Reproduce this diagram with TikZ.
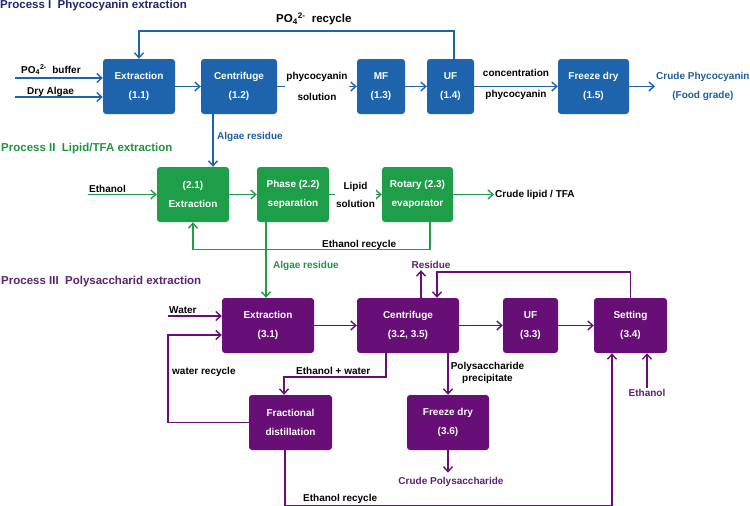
\documentclass[tikz,border=0pt]{standalone}
\usepackage{fontspec}
\setmainfont{Liberation Sans}
\usetikzlibrary{arrows.meta}
\definecolor{blueI}{HTML}{1D64AD}
\definecolor{navyI}{HTML}{22246E}
\definecolor{blueT}{HTML}{1E5E9C}
\definecolor{greenII}{HTML}{1E9E48}
\definecolor{greenT}{HTML}{1F9345}
\definecolor{purpleIII}{HTML}{670F76}
\definecolor{purpleT}{HTML}{5C2170}

\begin{document}
\begin{tikzpicture}[x=1pt,y=-1pt,
	box/.style={rounded corners=3pt,minimum height=55pt,inner sep=0pt,text=white,align=center,font=\bfseries\fontsize{10}{19}\selectfont},
	boxI/.style={box,fill=blueI},
	boxII/.style={box,fill=greenII},
	boxIII/.style={box,fill=purpleIII},
	lbl/.style={inner sep=1pt,text=black,align=center,font=\bfseries\fontsize{10}{19}\selectfont},
	wlbl/.style={lbl,fill=white,font=\bfseries\fontsize{10}{21}\selectfont},
	ttl/.style={inner sep=0pt,anchor=base west,font=\bfseries\fontsize{11.5}{14}\selectfont},
	arr/.style={line width=1.4pt,-{Straight Barb[length=5pt,width=9pt]}},
	barr/.style={arr,blueI},
	garr/.style={arr,greenII},
	parr/.style={arr,purpleIII}]

	\useasboundingbox (0,0) rectangle (750,506);

	\node[ttl,text=navyI] (t1) at (0,8.5) {Process I\ \ Phycocyanin extraction};
	\node[ttl,text=greenT] (t2) at (1,151.7) {Process II\ \ Lipid/TFA extraction};
	\node[ttl,text=purpleT] (t3) at (1,284.3) {Process III\ \ Polysaccharid extraction};

	\node[boxI,minimum width=72pt] (ext1) at (139,86.5) {Extraction\\(1.1)};
	\node[boxI,minimum width=76pt] (cen1) at (239,86.5) {Centrifuge\\(1.2)};
	\node[boxI,minimum width=48pt] (mf1) at (381,86.5) {MF\\(1.3)};
	\node[boxI,minimum width=47pt] (uf1) at (450.5,86.5) {UF\\(1.4)};
	\node[boxI,minimum width=71pt] (fd1) at (593.5,86.5) {Freeze dry\\(1.5)};
	\node[lbl,text=blueT,anchor=west] (crude1) at (655,86.5) {Crude Phycocyanin\\(Food grade)};

	\node[lbl,anchor=base west] (po1) at (20,73) {PO\textsubscript{4}\textsuperscript{2-}\ \ buffer};
	\node[lbl,anchor=base west] (dry1) at (26,94) {Dry Algae};
	\node[lbl,anchor=base west,font=\bfseries\fontsize{11.5}{14}\selectfont] (rec1) at (275,22.5) {PO\textsubscript{4}\textsuperscript{2-}\ \ recycle};
	\node[lbl,text=blueT,anchor=west] (ar1) at (216,137) {Algae residue};
	\coordinate (in1) at (15,78);
	\coordinate (in2) at (15,97);

	\node[boxII,minimum width=72pt] (ext2) at (193,194.5) {(2.1)\\Extraction};
	\node[boxII,minimum width=72pt] (pha2) at (293,194.5) {Phase (2.2)\\separation};
	\node[boxII,minimum width=71pt] (rot2) at (417.5,194.5) {Rotary (2.3)\\evaporator};
	\node[lbl,anchor=west] (crude2) at (494,194.5) {Crude lipid / TFA};

	\node[lbl,anchor=base west] (eth2) at (88,192) {Ethanol};
	\node[lbl,anchor=base west] (rec2) at (321,247) {Ethanol recycle};
	\node[lbl,text=greenT,anchor=west] (ar2) at (272,265.5) {Algae residue};
	\coordinate (in3) at (88,194.5);

	\node[boxIII,minimum width=92pt] (ext3) at (268,325.5) {Extraction\\(3.1)};
	\node[boxIII,minimum width=102pt] (cen3) at (408,325.5) {Centrifuge\\(3.2, 3.5)};
	\node[boxIII,minimum width=55pt] (uf3) at (530.5,325.5) {UF\\(3.3)};
	\node[boxIII,minimum width=73pt] (set3) at (630.5,325.5) {Setting\\(3.4)};
	\node[boxIII,minimum width=83pt] (fra3) at (290.5,422.5) {Fractional\\distillation};
	\node[boxIII,minimum width=82pt] (fd3) at (448,422.5) {Freeze dry\\(3.6)};

	\node[lbl,anchor=base west] (wat3) at (168,313.5) {Water};
	\node[lbl,anchor=base west] (wrec3) at (171,374.5) {water recycle};
	\node[lbl,anchor=base west] (ew3) at (295,374) {Ethanol + water};
	\node[lbl,anchor=north,inner sep=0pt,font=\bfseries\fontsize{10}{11.5}\selectfont] (pp3) at (487.5,362.5) {Polysaccharide\\precipitate};
	\node[lbl,text=purpleT] (res3) at (431,265.3) {Residue};
	\node[lbl,text=purpleT] (eth3) at (647,393) {Ethanol};
	\node[lbl,text=purpleT,inner sep=4pt] (crude3) at (451,481.5) {Crude Polysaccharide};
	\node[lbl,anchor=base west] (erec3) at (302,501) {Ethanol recycle};
	\coordinate (in4) at (168,316);
	\coordinate (bend3) at (284,377);

	\path[barr]
	(ext1) edge (cen1)
	(cen1) edge node[wlbl] {phycocyanin\\solution} (mf1)
	(mf1) edge (uf1)
	(uf1) edge node[lbl,above=8.5pt] {concentration} node[lbl,below=2.5pt] {phycocyanin} (fd1)
	(fd1) edge (crude1);
	\draw[barr] (in1) -- (in1 -| ext1.west);
	\draw[barr] (in2) -- (in2 -| ext1.west);
	\draw[barr] ([xshift=3.5pt]uf1.north) -- ++(0,-28) -| (ext1.north);
	\draw[barr] ([xshift=-26pt]cen1.south) -- ([xshift=-26pt]cen1.south |- ext2.north);

	\path[garr]
	(ext2) edge (pha2)
	(pha2) edge node[wlbl,font=\bfseries\fontsize{10}{18}\selectfont] {Lipid\\solution} (rot2)
	(rot2) edge (crude2);
	\draw[garr] (in3) -- (ext2.west);
	\draw[garr] ([xshift=12.5pt]rot2.south) -- ++(0,27) -| (ext2.south);
	\draw[garr] ([xshift=-27pt]pha2.south) -- ([xshift=-27pt]pha2.south |- ext3.north);

	\path[parr]
	(ext3) edge (cen3)
	(cen3) edge (uf3)
	(uf3) edge (set3);
	\draw[parr] (in4) -- (in4 -| ext3.west);
	\draw[parr] (fra3.west) -- ++(-81,0) |- ([yshift=-9.5pt]ext3.west);
	\draw[parr] ([xshift=13pt]cen3.north) -- ([xshift=13pt]cen3.north |- res3.south);
	\draw[parr] (set3.north) -- ++(0,-26) -| ([xshift=29pt]cen3.north);
	\draw[parr] (eth3.north) -- (eth3.north |- set3.south);
	\draw[parr] ([xshift=-22pt]cen3.south) |- (bend3) -- (bend3 |- fra3.north);
	\draw[parr] (cen3.south -| fd3.north) -- (fd3.north);
	\draw[parr] (fd3.south) -- (fd3.south |- crude3.north);
	\draw[parr] ([xshift=-5.5pt]fra3.south) -- ++(0,55) -| ([xshift=-18.5pt]set3.south);

\end{tikzpicture}
\end{document}
